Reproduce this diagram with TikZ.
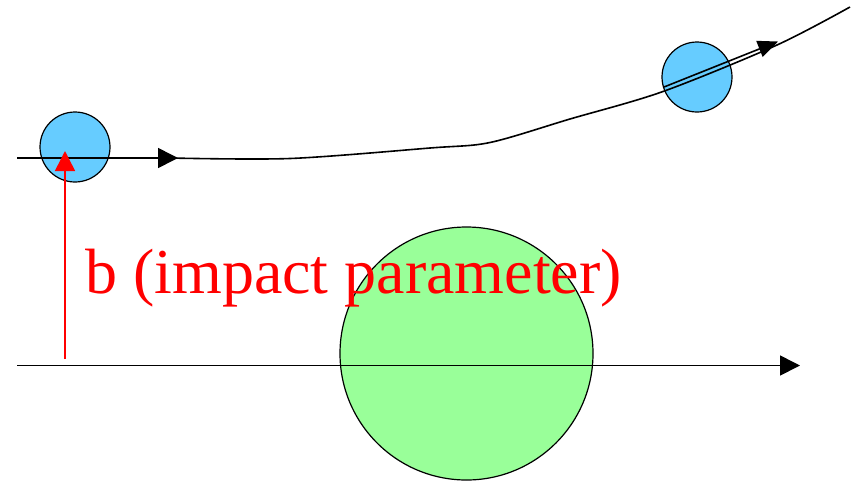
\documentclass[tikz,border=0pt]{standalone}
\usepackage{fontspec}
\setmainfont{Liberation Serif}
\usetikzlibrary{arrows.meta}
\definecolor{ballblue}{HTML}{66CCFF}
\definecolor{targetgreen}{HTML}{99FF99}
\begin{document}
\begin{tikzpicture}[x=1pt,y=-1pt,
  ball/.style={circle,draw=black,line width=1.2pt,fill=ballblue,minimum size=70pt,inner sep=0pt},
  target/.style={circle,draw=black,line width=1.2pt,fill=targetgreen,minimum size=253pt,inner sep=0pt},
  track/.style={black,line width=1.6pt},
  bigtip/.style={-{Triangle[length=20pt,width=20pt]}},
  lbl/.style={text=red,font=\fontsize{64}{72}\selectfont,inner sep=0pt,anchor=base west}]
\useasboundingbox (0,0) rectangle (853,483);
% target
\node[target] (g) at (466.5,353.5) {};
% lower line
\coordinate (l0) at (17,365.5);
\coordinate (l1) at (800,365.5);
\draw[track,bigtip] (l0) -- (l1);
% balls
\node[ball] (p1) at (75,147) {};
\node[ball] (p2) at (697,77) {};
% upper trajectory
\coordinate (u0) at (17,158);
\coordinate (u1) at (178,158);
\coordinate (u2) at (850,7);
\draw[track,bigtip] (u0) -- (u1);
\draw[track] plot[smooth,tension=0.5] coordinates {(170,158) (290,158.5) (430,148) (490,142.5) (570,119) (663,91.5) (777,45) (850,7)};
\coordinate (a0) at (664,87);
\coordinate (a1) at (778,41.5);
\draw[track,-{Triangle[length=20pt,width=17pt]}] (a0) -- (a1);
% impact parameter
\coordinate (r0) at (65,359);
\coordinate (r1) at (65,151);
\draw[red,line width=1.5pt,bigtip] (r0) -- (r1);
\node[lbl] (b) at (85,293) {b (impact parameter)};
\end{tikzpicture}
\end{document}
